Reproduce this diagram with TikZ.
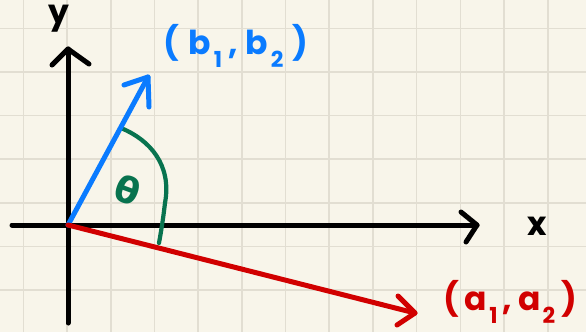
\documentclass[tikz,border=0pt]{standalone}
\usepackage{fontspec}
\setmainfont{Poppins}
\newfontfamily\greekfont{DejaVu Sans}
\definecolor{paper}{HTML}{F8F5EA}
\definecolor{gridc}{HTML}{E2DED2}
\definecolor{vblue}{HTML}{0A7BFF}
\definecolor{vred}{HTML}{D10000}
\definecolor{vgreen}{HTML}{08734F}
\tikzset{
  gridline/.style={draw=gridc, line width=1.6pt},
  pen/.style={line width=5pt, line cap=round, line join=round},
  chev/.style={line width=5pt, line cap=round, line join=round},
  hand/.style={font=\fontsize{33}{33}\selectfont\bfseries, inner sep=0pt},
}
\newcommand{\sbs}[1]{\raisebox{-0.38em}{\fontsize{22}{22}\selectfont #1}}
\begin{document}
\begin{tikzpicture}[x=1pt,y=-1pt]
\fill[paper] (0,0) rectangle (586,332);
\useasboundingbox (0,0) rectangle (586,332);
% grid
\foreach \gx in {23.3,67,110.7,154.4,198,241.8,285.5,329.2,372.9,416.6,460.3,504,547.7}
  \draw[gridline] (\gx,0) -- (\gx,332);
\foreach \gy in {28.3,72,115.6,159.2,202.8,246.4,290}
  \draw[gridline] (0,\gy) -- (586,\gy);
% coordinates
\coordinate (O) at (68,225);
\coordinate (ybot) at (68,323);
\coordinate (ytip) at (68,49);
\coordinate (xleft) at (12,225);
\coordinate (xtip) at (477,225);
\coordinate (btip) at (148,77);
\coordinate (atip) at (415,313);
% axes
\draw[pen,black] (ybot) -- (ytip);
\draw[chev,black] (52,65) -- (ytip) -- (89,64);
\draw[pen,black] (xleft) -- (xtip);
\draw[chev,black] (461,212) -- (xtip) -- (466,242);
% angle arc
\draw[vgreen,line width=4.2pt,line cap=round] (121,128) .. controls (150,140) and (172,165) .. (165,203) .. controls (163,220) and (161,232) .. (159,243);
% vectors
\draw[pen,vblue] (O) -- (btip);
\draw[chev,vblue] (124,85) -- (btip) -- (149,107);
\draw[pen,vred] (O) -- (atip);
\draw[chev,vred] (398,296) -- (atip) -- (397,325);
% labels
\node[hand,text=black] (ylab) at (59,19) {y};
\node[hand,text=black] (xlab) at (537,226) {x};
\node[hand,text=vblue] (blab) at (236,46) {(\hspace{9pt}b\hspace{3pt}\sbs{1}\hspace{6pt},\hspace{8pt}b\hspace{3pt}\sbs{2}\hspace{9pt})};
\node[hand,text=vred] (alab) at (510,302) {(\hspace{6pt}a\hspace{2pt}\sbs{1}\hspace{5pt},\hspace{6pt}a\hspace{2pt}\sbs{2}\hspace{6pt})};
\node[inner sep=0pt,text=vgreen,rotate=-20,font=\greekfont\fontsize{36}{36}\selectfont\bfseries] (theta) at (128,190) {θ};
\end{tikzpicture}
\end{document}
